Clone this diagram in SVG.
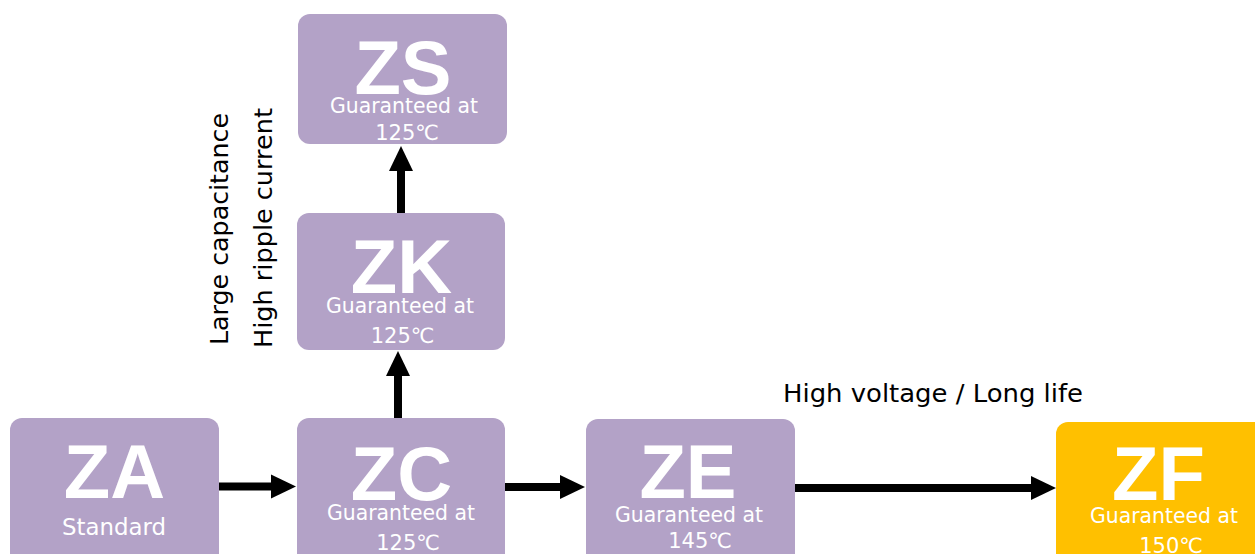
<svg xmlns="http://www.w3.org/2000/svg" width="1255" height="554" viewBox="0 0 1255 554">
  <style>
    .box { fill: #B3A2C7; }
    .box-hi { fill: #FFC000; }
    .big { font-family: "Liberation Sans", Arial, sans-serif; font-weight: bold; font-size: 76px; fill: #FFFFFF; text-anchor: middle; }
    .sub { font-family: "DejaVu Sans", "Noto Sans CJK JP", sans-serif; font-size: 21px; fill: #FFFFFF; text-anchor: middle; }
    .std { font-family: "DejaVu Sans", sans-serif; font-size: 23px; fill: #FFFFFF; text-anchor: middle; }
    .lbl { font-family: "DejaVu Sans", sans-serif; font-size: 24px; fill: #000000; text-anchor: middle; }
    .conn { stroke: #000000; stroke-width: 8; fill: none; marker-end: url(#arrow); }
  </style>
  <defs>
    <marker id="arrow" markerUnits="userSpaceOnUse" markerWidth="25" markerHeight="25" viewBox="0 0 25 25" refX="4" refY="12.5" orient="auto">
      <path d="M0,0.5 L25,12.5 L0,24.5 Z" fill="#000000"/>
    </marker>
  </defs>

  <rect width="1255" height="554" fill="#FFFFFF"/>

  <g id="connectors">
    <line class="conn" x1="219" y1="486.5" x2="275" y2="486.5"/>
    <line class="conn" x1="505" y1="487" x2="564" y2="487"/>
    <line class="conn" x1="795" y1="488" x2="1035" y2="488"/>
    <line class="conn" x1="398" y1="418" x2="398" y2="372"/>
    <line class="conn" x1="401" y1="213" x2="401" y2="167"/>
  </g>

  <g id="node-ZS">
    <rect class="box" x="298" y="14" width="209" height="130" rx="12"/>
    <text class="big" x="403" y="94">ZS</text>
    <text class="sub" x="404" y="113" textLength="148" lengthAdjust="spacingAndGlyphs">Guaranteed at</text>
    <text class="sub" x="407" y="140">125℃</text>
  </g>

  <g id="node-ZK">
    <rect class="box" x="297" y="213" width="208" height="137" rx="12"/>
    <text class="big" x="401.5" y="293">ZK</text>
    <text class="sub" x="400" y="313" textLength="148" lengthAdjust="spacingAndGlyphs">Guaranteed at</text>
    <text class="sub" x="402.5" y="343">125℃</text>
  </g>

  <g id="node-ZA">
    <rect class="box" x="10" y="418" width="209" height="160" rx="12"/>
    <text class="big" x="114.5" y="498">ZA</text>
    <text class="std" x="114" y="535" textLength="104" lengthAdjust="spacingAndGlyphs">Standard</text>
  </g>

  <g id="node-ZC">
    <rect class="box" x="297" y="418" width="208" height="160" rx="12"/>
    <text class="big" x="401.5" y="500">ZC</text>
    <text class="sub" x="401" y="520" textLength="148" lengthAdjust="spacingAndGlyphs">Guaranteed at</text>
    <text class="sub" x="408" y="550">125℃</text>
  </g>

  <g id="node-ZE">
    <rect class="box" x="586" y="419" width="209" height="160" rx="12"/>
    <text class="big" x="688" y="498">ZE</text>
    <text class="sub" x="689" y="522" textLength="148" lengthAdjust="spacingAndGlyphs">Guaranteed at</text>
    <text class="sub" x="700" y="548">145℃</text>
  </g>

  <g id="node-ZF">
    <rect class="box-hi" x="1056" y="422" width="220" height="160" rx="12"/>
    <text class="big" x="1158.5" y="500">ZF</text>
    <text class="sub" x="1164" y="523" textLength="148" lengthAdjust="spacingAndGlyphs">Guaranteed at</text>
    <text class="sub" x="1171" y="553">150℃</text>
  </g>

  <g id="labels">
    <text class="lbl" transform="translate(228,229) rotate(-90)" textLength="232" lengthAdjust="spacingAndGlyphs">Large capacitance</text>
    <text class="lbl" transform="translate(272,228) rotate(-90)" textLength="240" lengthAdjust="spacingAndGlyphs">High ripple current</text>
    <text class="lbl" x="933" y="402" textLength="300" lengthAdjust="spacingAndGlyphs">High voltage / Long life</text>
  </g>
</svg>
